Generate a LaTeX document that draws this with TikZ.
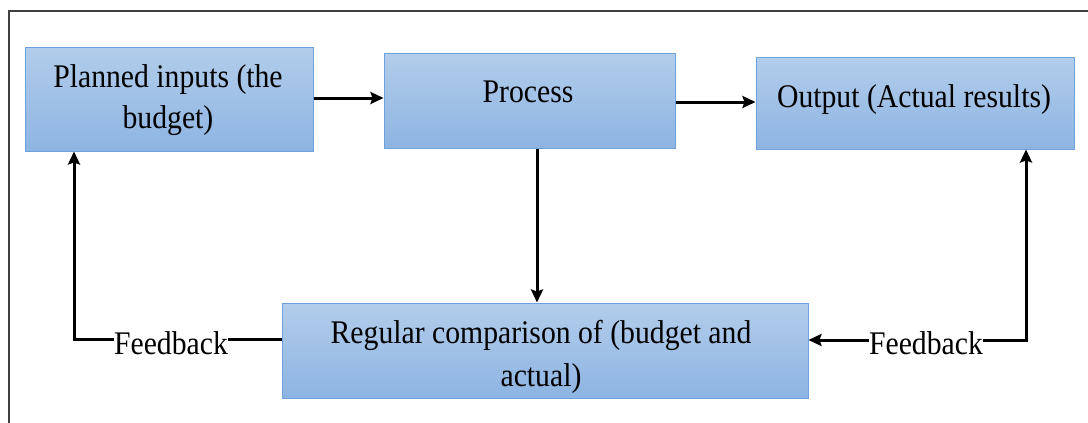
\documentclass[tikz,border=0pt]{standalone}
\usepackage{fontspec}
\setmainfont{Liberation Serif}
\usetikzlibrary{arrows.meta,calc}
\definecolor{boxtop}{HTML}{B3CDEB}
\definecolor{boxbot}{HTML}{8DB4E2}
\definecolor{boxline}{HTML}{6FA2DD}
\definecolor{framec}{HTML}{404040}
\newcommand{\narrowtxt}[1]{\scalebox{0.9}[1]{#1}}
\begin{document}
\begin{tikzpicture}[x=1pt,y=-1pt,
  box/.style={rectangle, draw=boxline, line width=1pt, top color=boxtop, bottom color=boxbot, inner sep=0pt},
  txt/.style={anchor=base, inner sep=0pt, font=\fontsize{33}{41}\selectfont},
  fb/.style={anchor=base, inner sep=0pt, fill=white, font=\fontsize{33}{41}\selectfont},
  arr/.style={line width=3pt, -{Stealth[length=13pt,width=12pt,inset=2pt]}},
  frame/.style={line width=1.3pt, draw=framec}]
\useasboundingbox (0,0) rectangle (1088,423);
\draw[frame] (1088,11) -- (9,11) -- (9,423);
% boxes
\node[box, minimum width=288pt, minimum height=104pt] (pi) at (169,99) {};
\node[box, minimum width=291pt, minimum height=95pt] (pr) at (529.5,100.5) {};
\node[box, minimum width=318pt, minimum height=92pt] (out) at (915,103) {};
\node[box, minimum width=526pt, minimum height=95pt] (reg) at (545,350.5) {};
% texts
\node[txt] (pi1) at (168,87) {\narrowtxt{Planned inputs (the}};
\node[txt] (pi2) at (168,128) {\narrowtxt{budget)}};
\node[txt] (prt) at (528,102) {\narrowtxt{Process}};
\node[txt] (outt) at (914,107) {\narrowtxt{Output (Actual results)}};
\node[txt] (reg1) at (541,343) {\narrowtxt{Regular comparison of (budget and}};
\node[txt] (reg2) at (541,386) {\narrowtxt{actual)}};
% connectors
\coordinate (lc) at (74,339);
\coordinate (rc) at (1026,340);
\draw[arr] ([yshift=1pt]pi.east) -- ([yshift=1pt]pi.east -| pr.west);
\draw[arr] ([yshift=-1.5pt]pr.east) -- ([yshift=-1.5pt]pr.east -| out.west);
\draw[arr] ([xshift=7.5pt]pr.south) -- ([xshift=7.5pt]pr.south |- reg.north);
\draw[arr] (reg.west |- lc) -- (lc) -- (lc |- pi.south);
\draw[line width=3pt, {Stealth[length=13pt,width=12pt,inset=2pt]}-{Stealth[length=13pt,width=12pt,inset=2pt]}] (reg.east |- rc) -- (rc) -- (rc |- out.south);
% feedback labels
\node[fb] (fb1) at (171,354) {\narrowtxt{Feedback}};
\node[fb] (fb2) at (926,354) {\narrowtxt{Feedback}};
\end{tikzpicture}
\end{document}
